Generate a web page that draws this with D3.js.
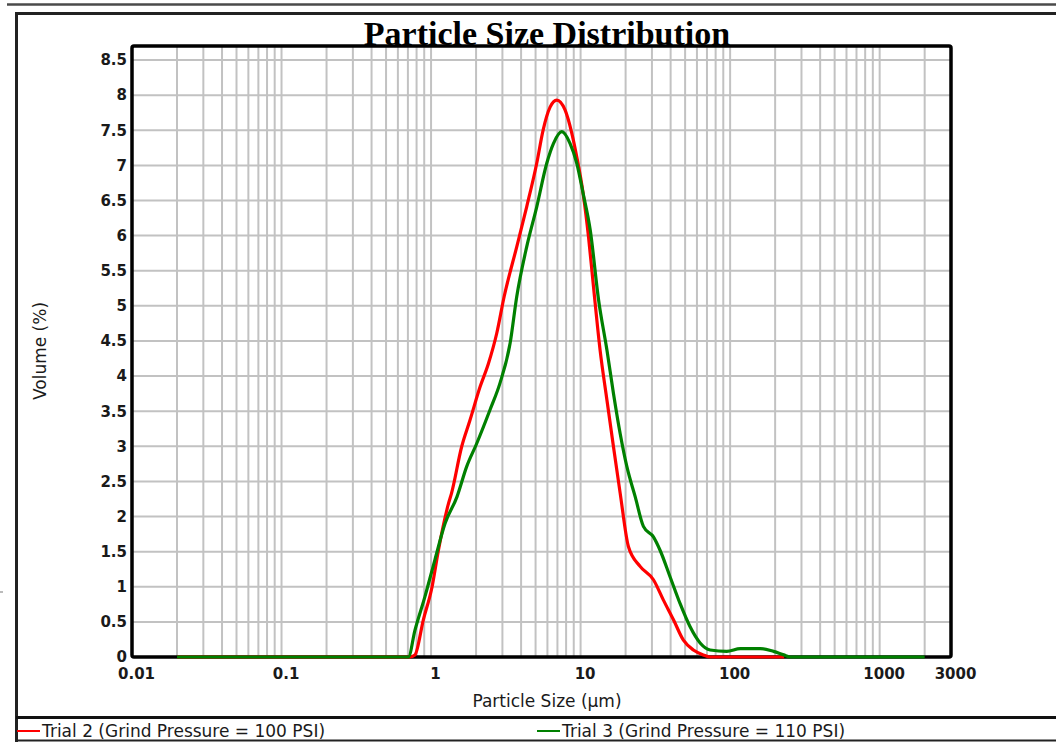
<!DOCTYPE html>
<html>
<head>
<meta charset="utf-8">
<title>Particle Size Distribution</title>
<script src="https://cdn.jsdelivr.net/npm/d3@7"></script>
<style>
  body { margin: 0; background: #fff; }
  svg { display: block; }
  .tick text { font-family: "DejaVu Sans", sans-serif; font-size: 15px; font-weight: bold; fill: #1a1a1a; }
  .axis-title, .legend-text { font-family: "DejaVu Sans", sans-serif; font-size: 17px; fill: #1a1a1a; }
  .chart-title { font-family: "Liberation Serif", serif; font-size: 34px; font-weight: bold; fill: #000; }
  .grid line { stroke: #c2c2c2; stroke-width: 2; }
</style>
</head>
<body>
<div id="chart"></div>
<script>
// Trial 2 (100 PSI) - size classes in µm and volume %
const trial2Size = [0.02, 0.72, 0.78, 0.888, 1.016, 1.12, 1.31, 1.37, 1.6, 1.82, 2.13, 2.42, 2.75, 3.08, 3.74, 4.36,
  5.09, 5.61, 6.25, 6.93, 7.87, 8.73, 9.43, 10.4, 11.3, 12.2, 13.5, 15.0, 16.6, 18.4, 20.9, 25.0, 30.7, 35.8,
  41.8, 48.7, 56.8, 66.2, 73.5, 230];
const trial2Volume = [0, 0, 0.03, 0.53, 1.0, 1.52, 2.19, 2.33, 2.99, 3.37, 3.85, 4.18, 4.61, 5.13, 5.84, 6.41,
  7.03, 7.5, 7.83, 7.93, 7.79, 7.46, 7.12, 6.6, 5.98, 5.27, 4.37, 3.66, 2.99, 2.33, 1.57, 1.29, 1.1, 0.81,
  0.53, 0.24, 0.1, 0.03, 0, 0];

// Trial 3 (110 PSI)
const trial3Size = [0.02, 0.705, 0.78, 0.91, 1.06, 1.24, 1.49, 1.73, 2.02, 2.48, 2.89, 3.38, 3.74, 4.36, 5.09,
  5.94, 6.58, 7.49, 8.51, 9.43, 10.4, 11.6, 13.2, 15.0, 16.6, 18.4, 20.4, 23.2, 26.3, 30.7, 34.0, 39.7, 46.3,
  54.0, 63.0, 73.5, 95, 117, 159, 195, 228, 252, 2000];
const trial3Volume = [0, 0, 0.38, 0.86, 1.38, 1.9, 2.28, 2.71, 3.04, 3.52, 3.9, 4.47, 5.13, 5.84, 6.41,
  7.03, 7.31, 7.48, 7.31, 7.03, 6.6, 6.08, 5.08, 4.37, 3.75, 3.18, 2.71, 2.28, 1.86, 1.71, 1.52, 1.14, 0.76,
  0.43, 0.2, 0.1, 0.08, 0.12, 0.12, 0.08, 0.03, 0, 0];

const yTicks = [0, 0.5, 1, 1.5, 2, 2.5, 3, 3.5, 4, 4.5, 5, 5.5, 6, 6.5, 7, 7.5, 8, 8.5];
const yTickLabels = ['0', '0.5', '1', '1.5', '2', '2.5', '3', '3.5', '4', '4.5', '5', '5.5', '6', '6.5', '7', '7.5', '8', '8.5'];
const xTicks = [0.01, 0.1, 1, 10, 100, 1000, 3000];
const xTickLabels = ['0.01', '0.1', '1', '10', '100', '1000', '3000'];
const seriesNames = ['Trial 2 (Grind Pressure = 100 PSI)', 'Trial 3 (Grind Pressure = 110 PSI)'];
const seriesColors = ['#ff0000', '#008000'];

class SizeDistribution {

    constructor(_config) {
        this.config = {
            parentElement: _config.parentElement,
            containerWidth: _config.containerWidth || 1056,
            containerHeight: _config.containerHeight || 742,
            margin: _config.margin || {top: 46, right: 105, bottom: 85, left: 132}
        };
        this.initVis();
    }

    initVis() {
        let vis = this;

        vis.width = vis.config.containerWidth - vis.config.margin.left - vis.config.margin.right;
        vis.height = vis.config.containerHeight - vis.config.margin.top - vis.config.margin.bottom;

        vis.svg = d3.select(vis.config.parentElement)
            .append('svg')
            .attr('width', vis.config.containerWidth)
            .attr('height', vis.config.containerHeight);

        // outer frame lines
        vis.svg.append('line')
            .attr('x1', 7).attr('x2', vis.config.containerWidth)
            .attr('y1', 4.5).attr('y2', 4.5)
            .attr('stroke', '#4a4a4a').attr('stroke-width', 2.5);
        vis.svg.append('path')
            .attr('d', `M${vis.config.containerWidth},13.5 H16.5 V742`)
            .attr('fill', 'none').attr('stroke', '#222').attr('stroke-width', 3);
        vis.svg.append('rect')
            .attr('x', 0).attr('y', 591).attr('width', 3).attr('height', 2)
            .attr('fill', '#bbb');

        vis.chart = vis.svg.append('g')
            .attr('transform', `translate(${vis.config.margin.left},${vis.config.margin.top})`);

        vis.xScale = d3.scaleLog()
            .domain([0.01, 3000])
            .range([0, vis.width]);

        vis.yScale = d3.scaleLinear()
            .domain([0, 8.7])
            .range([vis.height, 0]);

        // minor + major grid values for every decade
        vis.gridX = [];
        for (let p = -2; p <= 3; p++) {
            for (let m = 1; m <= 9; m++) {
                let v = m * Math.pow(10, p);
                if (v > 0.01 && v < 3000) vis.gridX.push(v);
            }
        }
    }

    renderVis() {
        let vis = this;

        let grid = vis.chart.append('g').attr('class', 'grid');
        grid.selectAll('.gx')
            .data(vis.gridX)
            .join('line')
            .attr('class', 'gx')
            .attr('x1', d => vis.xScale(d)).attr('x2', d => vis.xScale(d))
            .attr('y1', 0).attr('y2', vis.height);
        grid.selectAll('.gy')
            .data(yTicks.filter(d => d > 0))
            .join('line')
            .attr('class', 'gy')
            .attr('x1', 0).attr('x2', vis.width)
            .attr('y1', d => vis.yScale(d)).attr('y2', d => vis.yScale(d));

        vis.chart.append('rect')
            .attr('width', vis.width)
            .attr('height', vis.height)
            .attr('rx', 2)
            .attr('fill', 'none')
            .attr('stroke', '#000')
            .attr('stroke-width', 3.5);

        vis.chart.append('g')
            .call(d3.axisLeft(vis.yScale)
                .tickValues(yTicks)
                .tickFormat((d, i) => yTickLabels[i])
                .tickSize(0)
                .tickPadding(5))
            .call(g => g.select('.domain').remove());

        vis.chart.append('g')
            .attr('transform', `translate(0,${vis.height})`)
            .call(d3.axisBottom(vis.xScale)
                .tickValues(xTicks)
                .tickFormat((d, i) => xTickLabels[i])
                .tickSize(0)
                .tickPadding(11))
            .call(g => g.select('.domain').remove())
            .selectAll('text').attr('dx', 4);

        let line = d3.line()
            .x(d => vis.xScale(d[0]))
            .y(d => vis.yScale(d[1]))
            .curve(d3.curveMonotoneX);

        let series = [
            trial2Size.map((s, i) => [s, trial2Volume[i]]),
            trial3Size.map((s, i) => [s, trial3Volume[i]])
        ];

        vis.chart.selectAll('.series')
            .data(series)
            .join('path')
            .attr('class', 'series')
            .attr('d', d => line(d))
            .attr('fill', 'none')
            .attr('stroke', (d, i) => seriesColors[i])
            .attr('stroke-width', 3.2)
            .attr('stroke-linejoin', 'round');

        // titles
        vis.svg.append('text')
            .attr('class', 'chart-title')
            .attr('x', 547).attr('y', 45)
            .attr('text-anchor', 'middle')
            .text('Particle Size Distribution');

        vis.svg.append('text')
            .attr('class', 'axis-title')
            .attr('x', 547).attr('y', 707)
            .attr('text-anchor', 'middle')
            .text('Particle Size (µm)');

        vis.svg.append('text')
            .attr('class', 'axis-title')
            .attr('transform', 'translate(46,351) rotate(-90)')
            .attr('text-anchor', 'middle')
            .text('Volume (%)');

        // legend strip
        vis.svg.append('line')
            .attr('x1', 16).attr('x2', vis.config.containerWidth)
            .attr('y1', 717.5).attr('y2', 717.5)
            .attr('stroke', '#111').attr('stroke-width', 3);
        vis.svg.append('line')
            .attr('x1', 16).attr('x2', vis.config.containerWidth)
            .attr('y1', 740.5).attr('y2', 740.5)
            .attr('stroke', '#222').attr('stroke-width', 2);

        let legendX = [17, 537];
        let items = vis.svg.selectAll('.legend-item')
            .data(seriesNames)
            .join('g')
            .attr('class', 'legend-item')
            .attr('transform', (d, i) => `translate(${legendX[i]},731)`);
        items.append('line')
            .attr('x1', 0).attr('x2', 23)
            .attr('stroke', (d, i) => seriesColors[i])
            .attr('stroke-width', 2);
        items.append('text')
            .attr('class', 'legend-text')
            .attr('x', 25)
            .attr('dy', '0.36em')
            .text(d => d);
    }
}

const chart = new SizeDistribution({parentElement: '#chart'});
chart.renderVis();
</script>
</body>
</html>
